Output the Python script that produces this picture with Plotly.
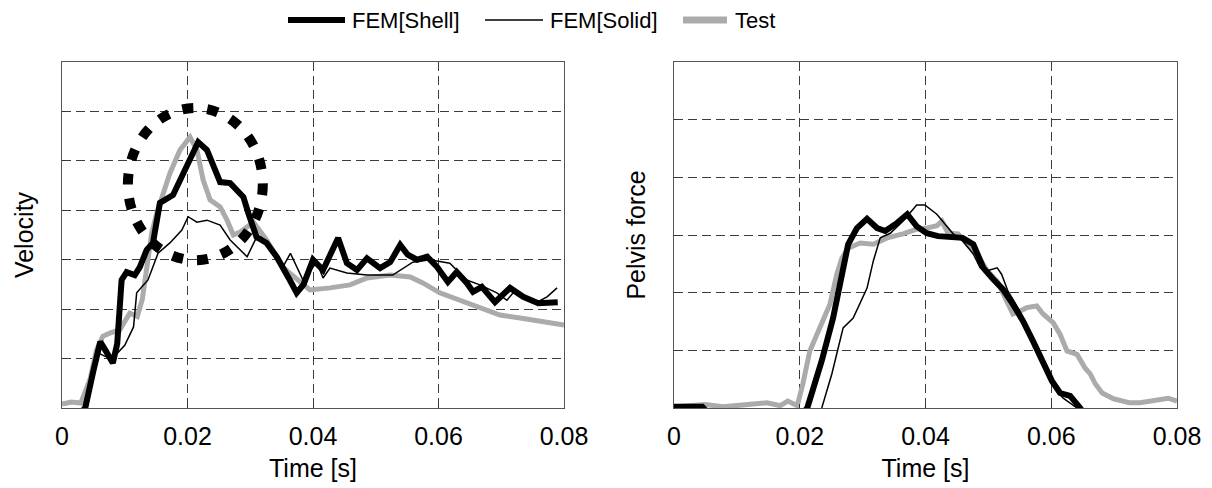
import plotly.graph_objects as go

# ---------------- data ----------------
x_tick_vals = [0, 0.02, 0.04, 0.06, 0.08]
x_tick_text = ["0", "0.02", "0.04", "0.06", "0.08"]

# Left panel: Velocity
vel_shell_t = [0.0025, 0.0037, 0.0050, 0.0061, 0.0070, 0.0081, 0.0088, 0.0095, 0.0103, 0.0116,
               0.0124, 0.0135, 0.0145, 0.0156, 0.0177, 0.0197, 0.0217, 0.0231, 0.0252, 0.0268,
               0.0289, 0.0297, 0.0310, 0.0326, 0.0342, 0.0363, 0.0374, 0.0385, 0.0400, 0.0416,
               0.0440, 0.0454, 0.0470, 0.0486, 0.0507, 0.0523, 0.0539, 0.0551, 0.0566, 0.0582,
               0.0598, 0.0615, 0.0629, 0.0645, 0.0655, 0.0669, 0.0690, 0.0714, 0.0735, 0.0759,
               0.0790]
vel_shell_v = [-0.15, 0.0, 0.75, 1.34, 1.15, 0.91, 1.30, 2.59, 2.75, 2.69,
               2.85, 3.20, 3.34, 4.15, 4.31, 4.85, 5.38, 5.22, 4.57, 4.55,
               4.27, 3.94, 3.46, 3.34, 3.06, 2.59, 2.33, 2.50, 3.00, 2.79,
               3.44, 2.93, 2.79, 3.03, 2.83, 2.95, 3.30, 3.10, 3.00, 3.06,
               2.85, 2.55, 2.75, 2.53, 2.35, 2.45, 2.14, 2.43, 2.25, 2.12,
               2.14]

vel_solid_t = [0.0040, 0.0058, 0.0068, 0.0080, 0.0100, 0.0114, 0.0119, 0.0127, 0.0137, 0.0143,
               0.0153, 0.0172, 0.0191, 0.0201, 0.0215, 0.0231, 0.0241, 0.0252, 0.0268, 0.0279,
               0.0295, 0.0308, 0.0318, 0.0331, 0.0352, 0.0364, 0.0384, 0.0406, 0.0416, 0.0427,
               0.0454, 0.0486, 0.0527, 0.0559, 0.0586, 0.0618, 0.0645, 0.0666, 0.0693, 0.0709,
               0.0719, 0.0757, 0.0773, 0.0789]
vel_solid_v = [0.0, 1.11, 1.05, 1.00, 1.27, 1.64, 2.33, 2.45, 2.59, 2.79,
               3.13, 3.34, 3.60, 3.87, 3.76, 3.80, 3.76, 3.70, 3.40, 3.26,
               3.06, 3.40, 3.45, 3.26, 2.85, 3.13, 2.59, 2.95, 2.63, 2.83,
               2.73, 2.69, 2.69, 2.95, 3.00, 2.93, 2.59, 2.49, 2.33, 2.18,
               2.33, 2.14, 2.25, 2.43]

vel_test_t = [0.0000, 0.0015, 0.0030, 0.0045, 0.0055, 0.0065, 0.0077, 0.0092, 0.0108, 0.0120,
              0.0128, 0.0135, 0.0143, 0.0151, 0.0161, 0.0172, 0.0188, 0.0204, 0.0215, 0.0225,
              0.0236, 0.0252, 0.0263, 0.0273, 0.0284, 0.0305, 0.0326, 0.0352, 0.0363, 0.0380,
              0.0395, 0.0427, 0.0459, 0.0486, 0.0523, 0.0555, 0.0575, 0.0602, 0.0634, 0.0666,
              0.0698, 0.0730, 0.0767, 0.0800]
vel_test_v = [0.08, 0.12, 0.10, 0.60, 1.17, 1.45, 1.52, 1.58, 1.92, 1.85,
              2.20, 2.85, 3.54, 3.94, 4.31, 4.75, 5.22, 5.48, 5.22, 4.61,
              4.21, 4.07, 3.80, 3.50, 3.56, 3.76, 3.40, 2.85, 2.73, 2.55,
              2.39, 2.43, 2.49, 2.63, 2.69, 2.65, 2.53, 2.33, 2.18, 2.04,
              1.88, 1.82, 1.74, 1.68]

# Right panel: Pelvis force
pel_shell_t = [0.0000, 0.0045, 0.0060, 0.0200, 0.0212, 0.0235, 0.0253, 0.0269, 0.0277, 0.0291,
               0.0307, 0.0323, 0.0336, 0.0355, 0.0371, 0.0386, 0.0402, 0.0420, 0.0459, 0.0476,
               0.0492, 0.0507, 0.0523, 0.0539, 0.0555, 0.0571, 0.0587, 0.0601, 0.0614, 0.0630,
               0.0646, 0.0655]
pel_shell_f = [0.02, 0.02, -0.15, -0.15, 0.0, 0.82, 1.56, 2.43, 2.84, 3.12,
               3.28, 3.12, 3.07, 3.21, 3.36, 3.15, 3.03, 2.98, 2.95, 2.84,
               2.43, 2.24, 2.06, 1.80, 1.51, 1.16, 0.82, 0.47, 0.26, 0.21,
               0.0, -0.15]

pel_solid_t = [0.0235, 0.0251, 0.0269, 0.0285, 0.0307, 0.0317, 0.0328, 0.0344, 0.0364, 0.0386,
               0.0399, 0.0418, 0.0444, 0.0459, 0.0476, 0.0487, 0.0498, 0.0514, 0.0521, 0.0531,
               0.0550, 0.0571, 0.0593, 0.0609, 0.0619, 0.0641]
pel_solid_f = [0.0, 0.59, 1.39, 1.56, 2.08, 2.55, 2.95, 3.03, 3.24, 3.52,
               3.52, 3.36, 3.02, 2.90, 2.67, 2.43, 2.38, 2.43, 2.32, 2.03,
               1.68, 1.21, 0.64, 0.29, 0.17, 0.0]

pel_test_t = [0.0000, 0.0029, 0.0050, 0.0078, 0.0105, 0.0130, 0.0148, 0.0169, 0.0181, 0.0196,
              0.0205, 0.0216, 0.0232, 0.0248, 0.0259, 0.0267, 0.0277, 0.0296, 0.0317, 0.0339,
              0.0364, 0.0386, 0.0402, 0.0418, 0.0426, 0.0436, 0.0452, 0.0466, 0.0482, 0.0498,
              0.0514, 0.0530, 0.0539, 0.0550, 0.0561, 0.0577, 0.0587, 0.0603, 0.0614, 0.0625,
              0.0641, 0.0654, 0.0662, 0.0670, 0.0681, 0.0699, 0.0725, 0.0741, 0.0762, 0.0786,
              0.0800]
pel_test_f = [0.02, 0.04, 0.06, 0.02, 0.05, 0.06, 0.09, 0.04, 0.12, 0.04,
              0.42, 0.99, 1.39, 1.80, 2.32, 2.60, 2.77, 2.86, 2.84, 2.95,
              3.02, 3.10, 3.12, 3.16, 3.24, 3.03, 3.02, 2.84, 2.67, 2.38,
              2.20, 1.86, 1.63, 1.68, 1.74, 1.77, 1.63, 1.48, 1.28, 0.99,
              0.93, 0.69, 0.59, 0.42, 0.26, 0.16, 0.09, 0.09, 0.12, 0.17,
              0.12]

# highlight ellipse on velocity panel (x0, x1, y0, y1 in data units)
highlight_ellipse = [0.0105, 0.0320, 2.99, 6.07]

series_names = ["FEM[Shell]", "FEM[Solid]", "Test"]

# ---------------- styling ----------------
W, H = 1212, 488
ML, MR, MT, MB = 62, 35, 62, 80
FONT = "Liberation Sans, Arial, sans-serif"
GRAY = "#ababab"
SHELL = dict(color="black", width=6)
SOLID = dict(color="black", width=1.5)
TEST = dict(color=GRAY, width=5)


def xp(px):
    return (px - ML) / (W - ML - MR)


def yp(py):
    return (H - MB - py) / (H - MT - MB)


fig = go.Figure()

# left panel
fig.add_trace(go.Scatter(x=vel_test_t, y=vel_test_v, mode="lines", line=TEST,
                         xaxis="x", yaxis="y", showlegend=False))
fig.add_trace(go.Scatter(x=vel_shell_t, y=vel_shell_v, mode="lines", line=SHELL,
                         xaxis="x", yaxis="y", showlegend=False))
fig.add_trace(go.Scatter(x=vel_solid_t, y=vel_solid_v, mode="lines", line=SOLID,
                         xaxis="x", yaxis="y", showlegend=False))
# right panel
fig.add_trace(go.Scatter(x=pel_test_t, y=pel_test_f, mode="lines", line=TEST,
                         xaxis="x2", yaxis="y2", showlegend=False))
fig.add_trace(go.Scatter(x=pel_shell_t, y=pel_shell_f, mode="lines", line=SHELL,
                         xaxis="x2", yaxis="y2", showlegend=False))
fig.add_trace(go.Scatter(x=pel_solid_t, y=pel_solid_f, mode="lines", line=SOLID,
                         xaxis="x2", yaxis="y2", showlegend=False))

axis_common = dict(
    showgrid=True, gridcolor="#3c3c3c", gridwidth=1, griddash="9px,5px",
    showline=True, linecolor="#555555", linewidth=1, mirror=True,
    ticks="inside", ticklen=4, tickcolor="#333333",
    zeroline=False, automargin=False,
)
tfont = dict(family=FONT, size=25, color="black")

xcommon = dict(range=[0, 0.08], tickvals=x_tick_vals, ticktext=x_tick_text,
               tickfont=tfont, ticklabelstandoff=6,
               title=dict(text="Time [s]", font=tfont, standoff=10))
ycommon = dict(domain=[0, 1], dtick=1, showticklabels=False)

fig.update_layout(
    width=W, height=H,
    margin=dict(l=ML, r=MR, t=MT, b=MB),
    paper_bgcolor="white", plot_bgcolor="white",
    font=dict(family=FONT, color="black"),
    showlegend=False,
    xaxis=dict(domain=[0, xp(564)], anchor="y", **xcommon, **axis_common),
    yaxis=dict(range=[0, 7], title=dict(text="Velocity", font=tfont, standoff=20),
               anchor="x", **ycommon, **axis_common),
    xaxis2=dict(domain=[xp(674), 1], anchor="y2", **xcommon, **axis_common),
    yaxis2=dict(range=[0, 6], title=dict(text="Pelvis force", font=tfont, standoff=20),
                anchor="x2", **ycommon, **axis_common),
)

# highlight ellipse
fig.add_shape(type="circle", xref="x", yref="y",
              x0=highlight_ellipse[0], x1=highlight_ellipse[1],
              y0=highlight_ellipse[2], y1=highlight_ellipse[3],
              line=dict(color="black", width=10, dash="11px,14px"), layer="above")

# manual legend
legend_y = yp(20)
legend_items = [
    (series_names[0], 288, 345, 350, SHELL),
    (series_names[1], 485, 543, 548, SOLID),
    (series_names[2], 683, 727, 733, dict(color=GRAY, width=7)),
]
for name, lx0, lx1, tx, style in legend_items:
    fig.add_shape(type="line", xref="paper", yref="paper",
                  x0=xp(lx0), x1=xp(lx1), y0=legend_y, y1=legend_y, line=style)
    fig.add_annotation(text=name, xref="paper", yref="paper", x=xp(tx), y=legend_y,
                       xanchor="left", yanchor="middle", showarrow=False,
                       font=dict(family=FONT, size=22, color="black"))

fig.write_html("out.html", config={"displayModeBar": False},
               post_script="document.body.style.margin='0px';")
